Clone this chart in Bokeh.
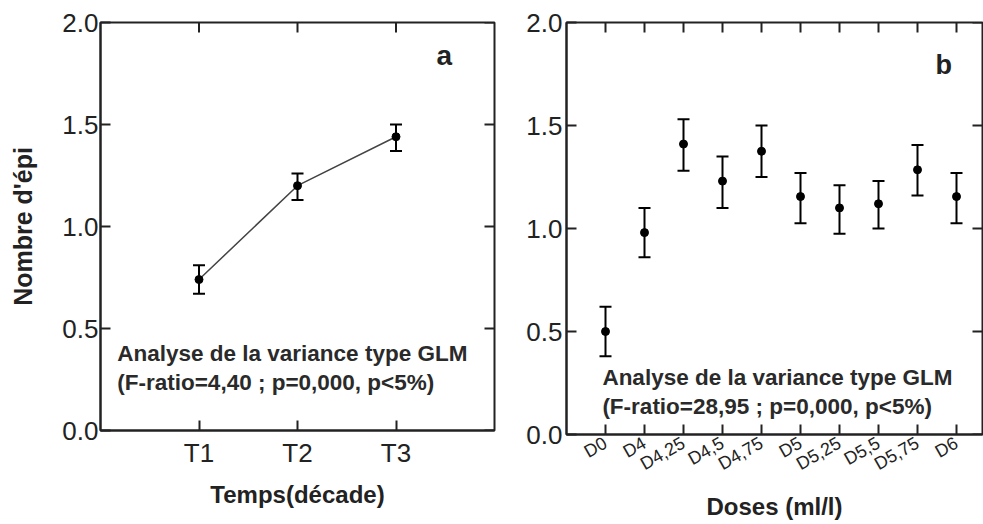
import math
from bokeh.plotting import figure
from bokeh.models import (FixedTicker, Range1d, Whisker, ColumnDataSource,
                          Label, TeeHead, PrintfTickFormatter)
from bokeh.layouts import row
from bokeh.embed import file_html
from bokeh.resources import INLINE

# ---- data: panel a ----
a_labels = ["T1", "T2", "T3"]
a_mean = [0.74, 1.20, 1.44]
a_low = [0.67, 1.13, 1.37]
a_high = [0.81, 1.26, 1.50]

# ---- data: panel b ----
b_labels = ["D0", "D4", "D4,25", "D4,5", "D4,75", "D5", "D5,25", "D5,5", "D5,75", "D6"]
b_mean = [0.50, 0.98, 1.41, 1.23, 1.375, 1.155, 1.10, 1.12, 1.285, 1.155]
b_low = [0.38, 0.86, 1.28, 1.10, 1.25, 1.025, 0.975, 1.00, 1.16, 1.025]
b_high = [0.62, 1.10, 1.53, 1.35, 1.50, 1.27, 1.21, 1.23, 1.405, 1.27]

y_ticks = [0.0, 0.5, 1.0, 1.5, 2.0]
stats_title = "Analyse de la variance type GLM"
stats_a = "(F-ratio=4,40 ; p=0,000, p<5%)"
stats_b = "(F-ratio=28,95 ; p=0,000, p<5%)"

FONT = "Liberation Sans"
DARK = "#222222"


def style_axis(ax, label_size="26px"):
    ax.axis_line_color = DARK
    ax.axis_line_width = 2
    ax.major_tick_in = 10
    ax.major_tick_out = 0
    ax.major_tick_line_color = DARK
    ax.major_tick_line_width = 2
    ax.minor_tick_line_color = None
    ax.major_label_text_font = FONT
    ax.major_label_text_font_size = label_size
    ax.major_label_text_color = DARK
    ax.axis_label_text_font = FONT
    ax.axis_label_text_font_style = "bold"
    ax.axis_label_text_font_size = "24px"
    ax.axis_label_text_color = DARK


def mirror_ticks(p, xticks):
    # inward ticks on the top and right edges (half of each dash is clipped by the frame)
    y_top = p.y_range.end
    x_right = p.x_range.end
    p.scatter(x=xticks, y=[y_top] * len(xticks), marker="dash", size=20, angle=math.pi / 2,
              line_color=DARK, line_width=2)
    p.scatter(x=[x_right] * len(y_ticks), y=y_ticks, marker="dash", size=20,
              line_color=DARK, line_width=2)


def base(fw, fh, xr, mb_left, mb_right, mb_top, mb_bottom):
    p = figure(frame_width=fw, frame_height=fh, x_range=Range1d(*xr), y_range=Range1d(0, 2),
               output_backend="svg", toolbar_location=None,
               min_border_left=mb_left, min_border_right=mb_right,
               min_border_top=mb_top, min_border_bottom=mb_bottom)
    p.grid.visible = False
    p.outline_line_color = DARK
    p.outline_line_width = 2
    p.background_fill_color = "white"
    p.border_fill_color = "white"
    return p


def add_points(p, xs, mean, low, high, line=False):
    src = ColumnDataSource(dict(x=xs, m=mean, lo=low, hi=high))
    if line:
        p.line("x", "m", source=src, line_color="#444444", line_width=1.5)
    w = Whisker(base="x", lower="lo", upper="hi", source=src,
                line_color="black", line_width=2,
                upper_head=TeeHead(size=12, line_color="black", line_width=2),
                lower_head=TeeHead(size=12, line_color="black", line_width=2))
    p.add_layout(w)
    p.scatter("x", "m", source=src, size=8, color="black")


def add_text(p, x, y1, y2, line2):
    for y, txt in ((y1, stats_title), (y2, line2)):
        p.add_layout(Label(x=x, y=y, text=txt, text_font=FONT, text_font_style="bold",
                           text_font_size="22.5px", text_color="#2a2a2a",
                           text_baseline="middle", text_align="left"))


# ---------------- panel a ----------------
a_x = list(range(1, len(a_labels) + 1))
pa = base(394, 408, (0, len(a_labels) + 1), 100, 20, 22, 94)
add_points(pa, a_x, a_mean, a_low, a_high, line=True)

style_axis(pa.xaxis[0])
pa.xaxis.ticker = FixedTicker(ticks=a_x)
pa.xaxis.major_label_overrides = {x: lab for x, lab in zip(a_x, a_labels)}
pa.xaxis.major_label_standoff = 7
pa.xaxis.axis_label = "Temps(décade)"
pa.xaxis.axis_label_standoff = 10

style_axis(pa.yaxis[0])
pa.yaxis.ticker = FixedTicker(ticks=y_ticks)
pa.yaxis.formatter = PrintfTickFormatter(format="%.1f")
pa.yaxis.major_label_standoff = 2
pa.yaxis.axis_label = "Nombre d'épi"
pa.yaxis.axis_label_text_font_size = "25px"
pa.yaxis.axis_label_standoff = 22
mirror_ticks(pa, a_x)

add_text(pa, 0.17, 0.377, 0.235, stats_a)
pa.add_layout(Label(x=3.49, y=1.84, text="a", text_font=FONT, text_font_style="bold",
                    text_font_size="28px", text_color="#222222",
                    text_baseline="middle", text_align="center"))

# ---------------- panel b ----------------
b_x = list(range(1, len(b_labels) + 1))
pb = base(416, 412, (0, 416 / 39), 52, 1, 22, 90)
add_points(pb, b_x, b_mean, b_low, b_high)

style_axis(pb.xaxis[0], label_size="18px")
pb.xaxis.ticker = FixedTicker(ticks=b_x)
pb.xaxis.major_label_overrides = {x: lab for x, lab in zip(b_x, b_labels)}
pb.xaxis.major_label_orientation = 0.52
pb.xaxis.major_label_standoff = 7
pb.xaxis.axis_label = "Doses (ml/l)"
pb.xaxis.axis_label_standoff = 7

style_axis(pb.yaxis[0])
pb.yaxis.ticker = FixedTicker(ticks=y_ticks)
pb.yaxis.formatter = PrintfTickFormatter(format="%.1f")
pb.yaxis.major_label_standoff = 4
mirror_ticks(pb, b_x)

add_text(pb, 0.92, 0.277, 0.136, stats_b)
pb.add_layout(Label(x=9.67, y=1.795, text="b", text_font=FONT, text_font_style="bold",
                    text_font_size="27px", text_color="#222222",
                    text_baseline="middle", text_align="center"))

layout = row(pa, pb)
open("out.html", "w").write(file_html(layout, INLINE))
